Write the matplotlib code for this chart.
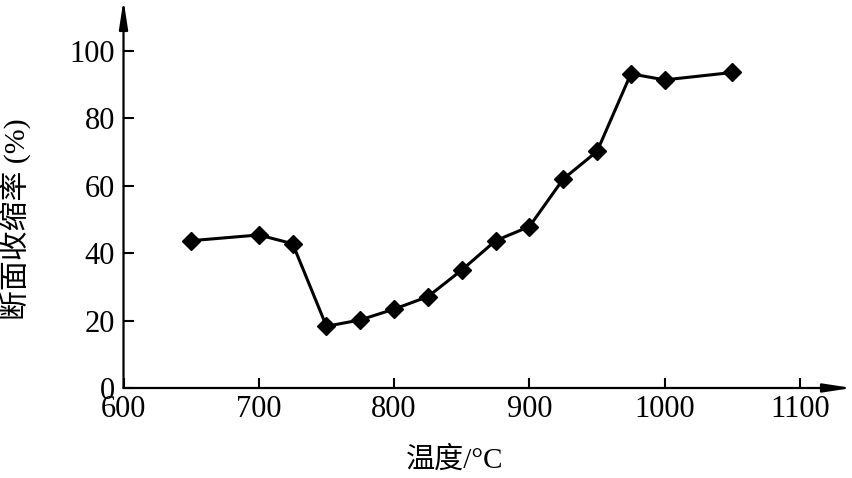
import matplotlib
matplotlib.use("Agg")
import matplotlib.pyplot as plt

# data
temps = [650, 700, 725, 750, 775, 800, 825, 850, 875, 900, 925, 950, 975, 1000, 1050]
shrink = [43.7, 45.4, 42.8, 18.3, 20.2, 23.4, 27.1, 35.0, 43.7, 47.9, 62.0, 70.2, 93.2, 91.4, 93.6]
xticks = [600, 700, 800, 900, 1000, 1100]
yticks = [0, 20, 40, 60, 80, 100]

fonts = ['Liberation Serif', 'Noto Sans CJK SC', 'DejaVu Sans']
plt.rcParams['font.family'] = fonts

fig = plt.figure(figsize=(8.53, 4.78), dpi=100)
ax = fig.add_axes([0.1448, 0.1883, 0.854, 0.8117])

ax.plot(temps, shrink, color='black', lw=2.2, marker='D', markersize=9,
        clip_on=False)

ax.set_xlim(600, 1138.4)
ax.set_ylim(0, 115.1)
ax.set_xticks(xticks)
ax.set_yticks(yticks)
ax.tick_params(direction='in', length=7, width=1.5, labelsize=22)
ax.tick_params(axis='x', pad=5)
ax.tick_params(axis='y', pad=6)

for s in ax.spines.values():
    s.set_visible(False)

# axes drawn as arrows
arrow = dict(arrowstyle='-|>,head_length=1.7,head_width=0.26', lw=1.6,
             color='black', shrinkA=0, shrinkB=0)
ax.annotate('', xy=(1, 0), xytext=(0, 0), xycoords='axes fraction',
            arrowprops=arrow, annotation_clip=False)
ax.annotate('', xy=(0, 1), xytext=(0, 0), xycoords='axes fraction',
            arrowprops=arrow, annotation_clip=False)

fig.text(455 / 853, 0.0377, '温度/°C', ha='center', va='center', fontsize=21)
fig.text(15 / 853, 0.542, '断面收缩率 (%)', ha='center', va='center',
         rotation=90, fontsize=21.5)

fig.savefig('out.png', dpi=100)
